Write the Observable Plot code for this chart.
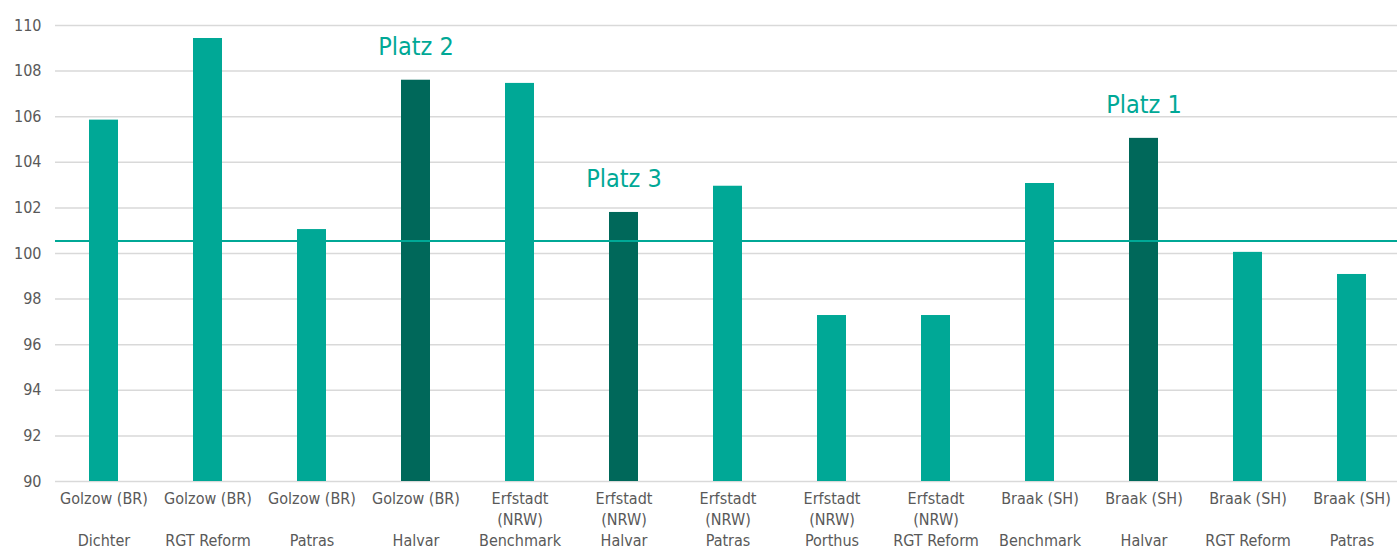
<!DOCTYPE html>
<html>
<head>
<meta charset="utf-8">
<script src="https://cdn.jsdelivr.net/npm/d3@7"></script>
<script src="https://cdn.jsdelivr.net/npm/@observablehq/plot@0.6"></script>
<style>
  html, body { margin: 0; padding: 0; background: #fff; }
  #chart { width: 1397px; height: 551px; overflow: hidden; }
</style>
</head>
<body>
<div id="chart"></div>
<script>
const locations = ["Golzow (BR)\n ", "Golzow (BR)\n ", "Golzow (BR)\n ", "Golzow (BR)\n ",
  "Erfstadt\n(NRW)", "Erfstadt\n(NRW)", "Erfstadt\n(NRW)", "Erfstadt\n(NRW)", "Erfstadt\n(NRW)",
  "Braak (SH)\n ", "Braak (SH)\n ", "Braak (SH)\n ", "Braak (SH)\n "];
const varieties = ["Dichter", "RGT Reform", "Patras", "Halvar",
  "Benchmark", "Halvar", "Patras", "Porthus", "RGT Reform",
  "Benchmark", "Halvar", "RGT Reform", "Patras"];
const values = [105.85, 109.43, 101.05, 107.6, 107.46, 101.8, 102.95, 97.28, 97.28, 103.07, 105.05, 100.05, 99.08];
const ranks = ["", "", "", "Platz 2", "", "Platz 3", "", "", "", "", "Platz 1", "", ""];
const referenceValue = 100.55;
const yTicks = [90, 92, 94, 96, 98, 100, 102, 104, 106, 108, 110];

const data = values.map((v, i) => ({
  key: i,
  label: locations[i] + "\n" + varieties[i],
  value: v,
  rank: ranks[i],
  highlight: ranks[i] !== ""
}));

const light = "#00A896";
const dark = "#00685A";
const font = "'DejaVu Sans Condensed', 'Liberation Sans Narrow', Roboto, sans-serif";

const chart = Plot.plot({
  width: 1397,
  height: 551,
  marginTop: 25,
  marginBottom: 70,
  marginLeft: 55,
  marginRight: 0,
  style: { fontFamily: font, background: "#fff", overflow: "hidden" },
  x: { type: "band", domain: data.map(d => d.key), range: [49, 1406], paddingInner: 0.72, paddingOuter: 0.36 },
  y: { domain: [90, 110] },
  marks: [
    Plot.gridY(yTicks, { stroke: "#d9d9d9", strokeOpacity: 1, strokeWidth: 1.5 }),
    Plot.axisY(yTicks, { tickSize: 0, tickPadding: 14, fontSize: 16, fill: "#595959", label: null }),
    Plot.axisX({
      tickSize: 0, tickPadding: 7, fontSize: 16, fill: "#595959", label: null,
      lineHeight: 1.32,
      tickFormat: k => data[k].label
    }),
    Plot.barY(data, { x: "key", y1: 90, y2: "value", fill: d => d.highlight ? dark : light }),
    Plot.ruleY([referenceValue], { stroke: light, strokeWidth: 2 }),
    Plot.text(data.filter(d => d.rank), {
      x: "key", y: "value", text: "rank", dy: -33, fill: light, fontSize: 25,
      fontFamily: font
    })
  ]
});
document.getElementById("chart").appendChild(chart);
</script>
</body>
</html>
